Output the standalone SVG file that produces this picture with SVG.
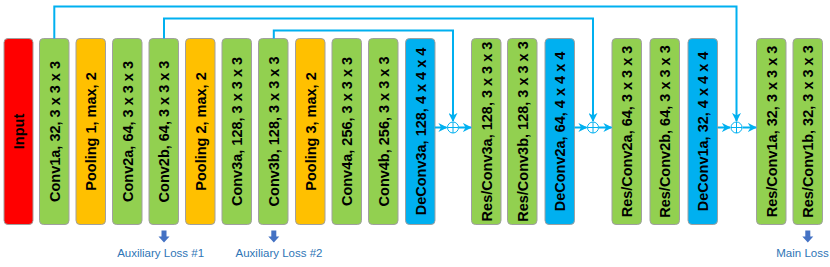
<svg xmlns="http://www.w3.org/2000/svg" width="830" height="267" viewBox="0 0 830 267">
<style>
.box{stroke:#a0a0a0;stroke-width:1}
.red{fill:#ff0000}
.green{fill:#92d050}
.gold{fill:#ffc000}
.blue{fill:#00b0f0}
.lbl{font-family:"Liberation Sans",Arial,sans-serif;font-weight:bold;font-size:14.5px;fill:#000;text-anchor:middle;dominant-baseline:central}
.conn{fill:none;stroke:#00b0f0;stroke-width:2}
.sum{fill:#fff;stroke:#00b0f0;stroke-width:1}
.loss{font-family:"Liberation Sans",Arial,sans-serif;font-size:11.5px;fill:#2e75b6;text-anchor:middle}
.darrow{fill:#4472c4}
</style>
<defs>
<marker id="ah" viewBox="0 0 10 10" refX="9" refY="5" markerWidth="9" markerHeight="9" markerUnits="userSpaceOnUse" orient="auto">
<path d="M0,0 L10,5 L0,10 L3,5 Z" fill="#00b0f0"/>
</marker>
</defs>

<g id="input"><rect class="box red" x="4" y="38.5" width="29" height="186" rx="4"/><text class="lbl" transform="translate(18.5,131.5) rotate(-90)">Input</text></g>
<g id="conv1a"><rect class="box green" x="39.5" y="38.5" width="29.5" height="186" rx="4"/><text class="lbl" transform="translate(54.5,131.5) rotate(-90)">Conv1a, 32, 3 x 3 x 3</text></g>
<g id="pool1"><rect class="box gold" x="76" y="38.5" width="29.5" height="186" rx="4"/><text class="lbl" transform="translate(91,131.5) rotate(-90)">Pooling 1, max, 2</text></g>
<g id="conv2a"><rect class="box green" x="112.5" y="38.5" width="29.5" height="186" rx="4"/><text class="lbl" transform="translate(127.5,131.5) rotate(-90)">Conv2a, 64, 3 x 3 x 3</text></g>
<g id="conv2b"><rect class="box green" x="149" y="38.5" width="29.5" height="186" rx="4"/><text class="lbl" transform="translate(164,131.5) rotate(-90)">Conv2b, 64, 3 x 3 x 3</text></g>
<g id="pool2"><rect class="box gold" x="185.5" y="38.5" width="29.5" height="186" rx="4"/><text class="lbl" transform="translate(200.5,131.5) rotate(-90)">Pooling 2, max, 2</text></g>
<g id="conv3a"><rect class="box green" x="222" y="38.5" width="29.5" height="186" rx="4"/><text class="lbl" transform="translate(237,131.5) rotate(-90)">Conv3a, 128, 3 x 3 x 3</text></g>
<g id="conv3b"><rect class="box green" x="258.5" y="38.5" width="29.5" height="186" rx="4"/><text class="lbl" transform="translate(273.5,131.5) rotate(-90)">Conv3b, 128, 3 x 3 x 3</text></g>
<g id="pool3"><rect class="box gold" x="295.5" y="38.5" width="29.5" height="186" rx="4"/><text class="lbl" transform="translate(310.5,131.5) rotate(-90)">Pooling 3, max, 2</text></g>
<g id="conv4a"><rect class="box green" x="332" y="38.5" width="29.5" height="186" rx="4"/><text class="lbl" transform="translate(347,131.5) rotate(-90)">Conv4a, 256, 3 x 3 x 3</text></g>
<g id="conv4b"><rect class="box green" x="368.5" y="38.5" width="29.5" height="186" rx="4"/><text class="lbl" transform="translate(383.5,131.5) rotate(-90)">Conv4b, 256, 3 x 3 x 3</text></g>
<g id="deconv3a"><rect class="box blue" x="405.5" y="38.5" width="29.5" height="186" rx="4"/><text class="lbl" transform="translate(420.5,131.5) rotate(-90)">DeConv3a, 128, 4 x 4 x 4</text></g>
<g id="resconv3a"><rect class="box green" x="471.5" y="38.5" width="29.5" height="186" rx="4"/><text class="lbl" transform="translate(486.5,131.5) rotate(-90)">Res/Conv3a, 128, 3 x 3 x 3</text></g>
<g id="resconv3b"><rect class="box green" x="507.5" y="38.5" width="29.5" height="186" rx="4"/><text class="lbl" transform="translate(522.5,131.5) rotate(-90)">Res/Conv3b, 128, 3 x 3 x 3</text></g>
<g id="deconv2a"><rect class="box blue" x="545" y="38.5" width="29.5" height="186" rx="4"/><text class="lbl" transform="translate(560,131.5) rotate(-90)">DeConv2a, 64, 4 x 4 x 4</text></g>
<g id="resconv2a"><rect class="box green" x="612" y="38.5" width="29.5" height="186" rx="4"/><text class="lbl" transform="translate(627,131.5) rotate(-90)">Res/Conv2a, 64, 3 x 3 x 3</text></g>
<g id="resconv2b"><rect class="box green" x="650" y="38.5" width="29.5" height="186" rx="4"/><text class="lbl" transform="translate(665,131.5) rotate(-90)">Res/Conv2b, 64, 3 x 3 x 3</text></g>
<g id="deconv1a"><rect class="box blue" x="688" y="38.5" width="29.5" height="186" rx="4"/><text class="lbl" transform="translate(703,131.5) rotate(-90)">DeConv1a, 32, 4 x 4 x 4</text></g>
<g id="resconv1a"><rect class="box green" x="756.5" y="38.5" width="29.5" height="186" rx="4"/><text class="lbl" transform="translate(771.5,131.5) rotate(-90)">Res/Conv1a, 32, 3 x 3 x 3</text></g>
<g id="resconv1b"><rect class="box green" x="793" y="38.5" width="29.5" height="186" rx="4"/><text class="lbl" transform="translate(808,131.5) rotate(-90)">Res/Conv1b, 32, 3 x 3 x 3</text></g>

<g id="connectors">
<path class="conn" d="M54.3,38.5 V6.5 H736.5 V121" marker-end="url(#ah)"/>
<path class="conn" d="M164,38.5 V18.5 H593 V121" marker-end="url(#ah)"/>
<path class="conn" d="M273.8,38.5 V30.5 H453 V121" marker-end="url(#ah)"/>
<path class="conn" d="M435,127.5 H446.5" marker-end="url(#ah)"/>
<path class="conn" d="M459,127.5 H471" marker-end="url(#ah)"/>
<path class="conn" d="M574.5,127.5 H586.5" marker-end="url(#ah)"/>
<path class="conn" d="M599,127.5 H611.5" marker-end="url(#ah)"/>
<path class="conn" d="M717.5,127.5 H730" marker-end="url(#ah)"/>
<path class="conn" d="M742.5,127.5 H756" marker-end="url(#ah)"/>
</g>

<g id="sum3"><circle class="sum" cx="453" cy="127.5" r="5.5"/><path class="sum" d="M447.5,127.5 H458.5 M453,122 V133"/></g>
<g id="sum2"><circle class="sum" cx="593" cy="127.5" r="5.5"/><path class="sum" d="M587.5,127.5 H598.5 M593,122 V133"/></g>
<g id="sum1"><circle class="sum" cx="736.5" cy="127.5" r="5.5"/><path class="sum" d="M731,127.5 H742 M736.5,122 V133"/></g>

<g id="aux1"><path class="darrow" d="M161.5,230.5 H166.5 V236.5 H169.5 L164,242.5 L158.5,236.5 H161.5 Z"/><text class="loss" x="160.6" y="256.5">Auxiliary Loss #1</text></g>
<g id="aux2"><path class="darrow" d="M271.3,230.5 H276.3 V236.5 H279.3 L273.8,242.5 L268.3,236.5 H271.3 Z"/><text class="loss" x="279" y="256.5">Auxiliary Loss #2</text></g>
<g id="mainloss"><path class="darrow" d="M805.3,230.5 H810.3 V236.5 H813.3 L807.8,242.5 L802.3,236.5 H805.3 Z"/><text class="loss" x="802.5" y="256.5">Main Loss</text></g>
</svg>
